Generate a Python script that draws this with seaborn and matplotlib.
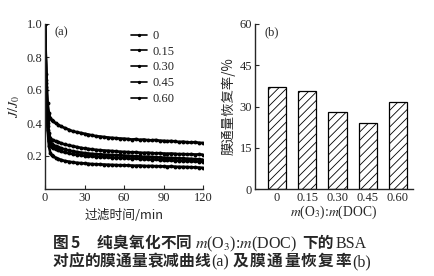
import numpy as np
import pandas as pd
import matplotlib
matplotlib.use("Agg")
import matplotlib.pyplot as plt
import seaborn as sns
from matplotlib.lines import Line2D
from matplotlib.ticker import FormatStrFormatter

# ---------------- data ----------------
time_min = [0, 1, 2, 3, 4, 5, 6, 8, 10, 12,
            15, 18, 21, 24, 27, 30, 33, 36, 39, 42,
            45, 48, 51, 54, 57, 60, 63, 66, 69, 72,
            75, 78, 81, 84, 87, 90, 93, 96, 99, 102,
            105, 108, 111, 114, 117, 120]

flux_060 = [1.00, 0.70, 0.52, 0.46, 0.43, 0.42, 0.41, 0.40, 0.39, 0.38,
            0.37, 0.36, 0.35, 0.345, 0.34, 0.335, 0.33, 0.325, 0.32, 0.318,
            0.315, 0.312, 0.31, 0.308, 0.306, 0.305, 0.303, 0.30, 0.302, 0.298,
            0.30, 0.296, 0.295, 0.297, 0.293, 0.292, 0.29, 0.291, 0.288, 0.285,
            0.287, 0.283, 0.282, 0.284, 0.280, 0.279]
flux_045 = [1.00, 0.66, 0.42, 0.34, 0.31, 0.30, 0.295, 0.29, 0.285, 0.278,
            0.27, 0.265, 0.26, 0.255, 0.25, 0.246, 0.243, 0.24, 0.237, 0.235,
            0.233, 0.232, 0.23, 0.228, 0.226, 0.225, 0.224, 0.222, 0.223, 0.22,
            0.219, 0.22, 0.218, 0.216, 0.217, 0.215, 0.214, 0.215, 0.213, 0.211,
            0.212, 0.21, 0.211, 0.209, 0.21, 0.208]
flux_030 = [1.00, 0.64, 0.40, 0.31, 0.285, 0.275, 0.268, 0.26, 0.255, 0.248,
            0.24, 0.234, 0.229, 0.225, 0.221, 0.218, 0.215, 0.213, 0.211, 0.21,
            0.208, 0.207, 0.206, 0.205, 0.204, 0.203, 0.201, 0.20, 0.198, 0.197,
            0.195, 0.196, 0.194, 0.193, 0.191, 0.19, 0.189, 0.188, 0.187, 0.186,
            0.185, 0.184, 0.183, 0.181, 0.18, 0.178]
flux_015 = [1.00, 0.62, 0.38, 0.29, 0.265, 0.255, 0.248, 0.24, 0.235, 0.228,
            0.222, 0.217, 0.212, 0.208, 0.205, 0.202, 0.20, 0.198, 0.196, 0.194,
            0.193, 0.192, 0.19, 0.189, 0.188, 0.187, 0.186, 0.184, 0.185, 0.182,
            0.181, 0.18, 0.178, 0.179, 0.176, 0.175, 0.174, 0.173, 0.172, 0.171,
            0.17, 0.169, 0.168, 0.167, 0.166, 0.165]
flux_000 = [1.00, 0.60, 0.36, 0.26, 0.22, 0.205, 0.198, 0.19, 0.183, 0.177,
            0.17, 0.166, 0.162, 0.159, 0.157, 0.155, 0.153, 0.151, 0.15, 0.149,
            0.148, 0.147, 0.146, 0.145, 0.144, 0.144, 0.143, 0.142, 0.141, 0.142,
            0.14, 0.139, 0.14, 0.138, 0.138, 0.137, 0.136, 0.137, 0.135, 0.134,
            0.134, 0.133, 0.132, 0.131, 0.13, 0.128]

ratio_labels = ["0", "0.15", "0.30", "0.45", "0.60"]
recovery_pct = [37.1, 35.7, 28.1, 23.9, 31.5]

# ---------------- style ----------------
sns.set_theme(style="ticks")
plt.rcParams["font.family"] = ["Liberation Serif", "Noto Sans CJK SC"]
plt.rcParams["mathtext.fontset"] = "stix"
plt.rcParams["hatch.linewidth"] = 0.6
plt.rcParams["axes.linewidth"] = 1.0
plt.rcParams["xtick.direction"] = "in"
plt.rcParams["ytick.direction"] = "in"

TICK_FS = 9.0
CJK = ["Noto Sans CJK SC", "DejaVu Sans"]

fig = plt.figure(figsize=(4.34, 2.76), dpi=100)
W, H = 434, 276
axa = fig.add_axes([45 / W, 1 - 189 / H, 158 / W, 165 / H])
axb = fig.add_axes([255 / W, 1 - 189 / H, 158 / W, 165 / H])

# ---------------- panel (a) ----------------
series = {"0.60": flux_060, "0.45": flux_045, "0.30": flux_030,
          "0.15": flux_015, "0": flux_000}
frames = []
for lab, vals in series.items():
    frames.append(pd.DataFrame({"t": time_min, "J": vals, "ratio": lab}))
df = pd.concat(frames, ignore_index=True)

sns.lineplot(data=df, x="t", y="J", hue="ratio", hue_order=ratio_labels,
             palette=["black"] * 5, marker="o", markersize=2.8,
             markeredgewidth=0, linewidth=1.9, legend=False, ax=axa)

axa.set_xlim(0, 120)
axa.set_ylim(0, 1.0)
axa.set_xticks([0, 30, 60, 90, 120])
axa.set_yticks([0.2, 0.4, 0.6, 0.8, 1.0])
axa.yaxis.set_major_formatter(FormatStrFormatter("%.1f"))
axa.tick_params(labelsize=TICK_FS, length=3, width=0.8, pad=2)
sns.despine(ax=axa)
axa.set_xlabel("过滤时间/min", fontsize=9.2, family=CJK, labelpad=4)
axa.set_ylabel(r"$J/J_0$", fontsize=10, labelpad=3)
axa.text(0.063, 0.95, "(a)", transform=axa.transAxes, fontsize=9,
         va="center", ha="left")

handles = [Line2D([], [], color="black", lw=1.2, marker="o", markersize=2.4,
                  markeredgewidth=0) for _ in ratio_labels]
axa.legend(handles, ratio_labels, loc="upper left",
           bbox_to_anchor=((131 - 45) / 158, (189 - 30) / 165),
           frameon=False, fontsize=TICK_FS, handlelength=1.3,
           handletextpad=0.4, labelspacing=0.3, borderpad=0, borderaxespad=0)

# ---------------- panel (b) ----------------
sns.barplot(x=ratio_labels, y=recovery_pct, order=ratio_labels,
            color="white", saturation=1, edgecolor="black", linewidth=0.9,
            hatch="////", width=0.6, ax=axb)
for p in axb.patches:
    p.set_facecolor("white")
    p.set_hatch("////")
axb.set_xlim(-0.73, 4.5)
axb.set_ylim(0, 60)
axb.set_yticks([0, 15, 30, 45, 60])
axb.tick_params(labelsize=TICK_FS, length=3, width=0.8, pad=2)
sns.despine(ax=axb)
axb.set_xlabel(r"$m$(O$_3$):$m$(DOC)", fontsize=9.8, labelpad=0)
axb.set_ylabel("膜通量恢复率/%", fontsize=9.6, family=CJK, labelpad=3)
axb.text(0.063, 0.95, "(b)", transform=axb.transAxes, fontsize=9,
         va="center", ha="left")

# ---------------- caption ----------------
cj = dict(family=CJK, fontsize=11.3, fontweight="bold")
se = dict(family=["Liberation Serif"], fontsize=11.5)


def place(pieces, y_base):
    for x, s, kw in pieces:
        fig.text(x / W, 1 - y_base / H, s, va="baseline", ha="left", **kw)


def place_spaced(x0, step, s, y_base, kw):
    for i, ch in enumerate(s):
        fig.text((x0 + i * step) / W, 1 - y_base / H, ch, va="baseline",
                 ha="left", **kw)


place([(53, "图", cj), (71, "5", cj), (302, "下的", cj),
       (195, r"$m$(O$_3$):$m$(DOC)", se), (336, "BSA", se)], 248)
place_spaced(97, 15.8, "纯臭氧化不同", 248, cj)
place_spaced(53, 15.7, "对应的膜通量衰减曲线", 266, cj)
place([(211, "(a)", se), (352, "(b)", se)], 266)
place_spaced(233, 17.0, "及膜通量恢复率", 266, cj)

fig.savefig("out.png", dpi=100)
